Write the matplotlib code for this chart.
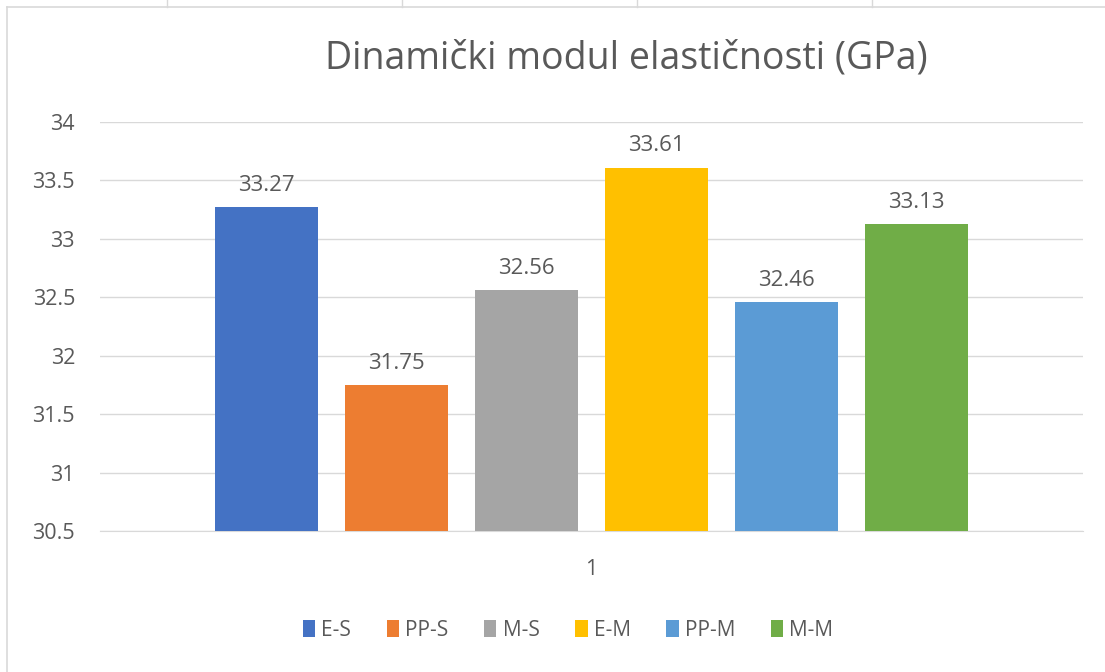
import numpy as np
import matplotlib.pyplot as plt
from matplotlib.lines import Line2D

# Podaci
serije = ["E-S", "PP-S", "M-S", "E-M", "PP-M", "M-M"]
vrijednosti = [33.27, 31.75, 32.56, 33.61, 32.46, 33.13]
boje = ["#4472C4", "#ED7D31", "#A5A5A5", "#FFC000", "#5B9BD5", "#70AD47"]
kategorije = ["1"]
y_ticks = [30.5, 31, 31.5, 32, 32.5, 33, 33.5, 34]

plt.rcParams['font.family'] = ['Open Sans', 'DejaVu Sans']
tekst = "#595959"

fig = plt.figure(figsize=(11.05, 6.72), dpi=100)
ax = fig.add_axes([100/1105, 1 - 531/672, 983/1105, 409/672])

korak = 0.1323
sirina = 0.1048
for i, (s, v, c) in enumerate(zip(serije, vrijednosti, boje)):
    x = (i - 2.5) * korak
    ax.bar(x, v - 30.5, bottom=30.5, width=sirina, color=c, label=s, zorder=3)
    ax.annotate(f"{v:.2f}", (x, v), xytext=(0, 8), textcoords="offset points",
                ha="center", va="bottom", fontsize=16, color=tekst)

ax.set_xlim(-0.5, 0.5)
ax.set_ylim(30.5, 34)
ax.set_yticks(y_ticks)
ax.set_yticklabels([f"{t:g}" for t in y_ticks], fontsize=15.5, color=tekst)
ax.set_xticks([0])
ax.set_xticklabels(kategorije, fontsize=15.5, color=tekst)
ax.tick_params(length=0, axis="y", pad=18)
ax.tick_params(length=0, axis="x", pad=20)
ax.grid(axis="y", color="#D9D9D9", linewidth=1, zorder=0)
for sp in ["top", "right", "left"]:
    ax.spines[sp].set_visible(False)
ax.spines["bottom"].set_color("#D9D9D9")

fig.text(626/1105, 1 - 58/672, "Dinamički modul elastičnosti (GPa)", ha="center", va="center",
         fontsize=27, color=tekst)

leg = ax.legend(loc="center", bbox_to_anchor=(568/1105, 1 - 630/672), bbox_transform=fig.transFigure,
                ncol=6, frameon=False, fontsize=15, handlelength=0.6, handleheight=0.9,
                handletextpad=0.3, columnspacing=1.7)
for t in leg.get_texts():
    t.set_color(tekst)

# okvir grafikona i linije ćelija
fig.add_artist(Line2D([7/1105, 7/1105], [0, 1 - 7/672], color="#D9D9D9", lw=1.2, transform=fig.transFigure))
fig.add_artist(Line2D([7/1105, 1], [1 - 7/672, 1 - 7/672], color="#D9D9D9", lw=1.2, transform=fig.transFigure))
for xc in [167, 402, 637, 872]:
    fig.add_artist(Line2D([xc/1105, xc/1105], [1 - 7/672, 1], color="#D9D9D9", lw=1, transform=fig.transFigure))

fig.savefig("out.png", dpi=100)
